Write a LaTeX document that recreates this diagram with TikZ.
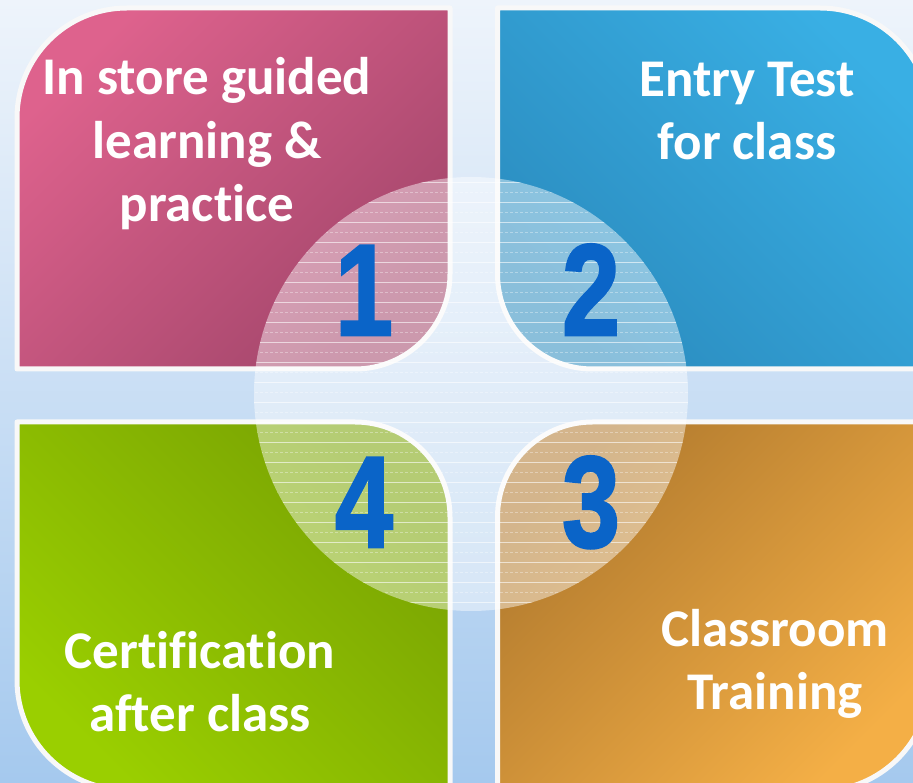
\documentclass[tikz,border=0pt]{standalone}
\usepackage{fontspec}
\usepackage{graphicx}
\setmainfont{Carlito}[Ligatures=NoCommon]
\newfontfamily\numfont{Liberation Sans}[FakeBold=2]
\definecolor{bgtop}{HTML}{EEF4FB}
\definecolor{bgbot}{HTML}{A5C9EE}
\definecolor{pinkL}{HTML}{DE628D}
\definecolor{pinkD}{HTML}{A3466B}
\definecolor{blueL}{HTML}{39AFE4}
\definecolor{blueD}{HTML}{2B8CBF}
\definecolor{greenL}{HTML}{9ACF00}
\definecolor{greenD}{HTML}{79A303}
\definecolor{orangeL}{HTML}{F4AF46}
\definecolor{orangeD}{HTML}{B17A2E}
\definecolor{numblue}{HTML}{0A64C8}
\definecolor{rim}{HTML}{F8F8F8}
\begin{document}
\begin{tikzpicture}[x=1pt,y=1pt,
  quad/.style={draw=rim, line width=5pt, line join=round},
  lbl/.style={text=white, font=\fontsize{53}{63.5}\selectfont\bfseries, align=center, anchor=base, inner sep=0pt},
  num/.style={text=numblue, font=\numfont\fontsize{130}{130}\selectfont\bfseries, anchor=base, inner sep=0pt},
  solidline/.style={white, opacity=0.6, line width=1pt},
  dashline/.style={white, opacity=0.35, line width=1pt, dash pattern=on 3pt off 2pt}]
\useasboundingbox (0,0) rectangle (913,782);
\clip (0,0) rectangle (913,782);
% background
\shade[top color=bgtop, bottom color=bgbot] (0,0) rectangle (913,782);
% quadrant 1 (pink)
\path[quad, top color=pinkL, bottom color=pinkD, shading angle=45]
  (450,774) -- (127,774) arc[start angle=90, end angle=180, radius=110]
  -- (17,413) -- (355,413) arc[start angle=270, end angle=360, radius=95] -- cycle;
% quadrant 2 (blue)
\path[quad, top color=blueL, bottom color=blueD, shading angle=-45]
  (497.5,774) -- (820,774) arc[start angle=90, end angle=0, radius=110]
  -- (930,413) -- (592.5,413) arc[start angle=270, end angle=180, radius=95] -- cycle;
% quadrant 4 (green)
\path[quad, top color=greenD, bottom color=greenL, shading angle=-45]
  (17,360) -- (355,360) arc[start angle=90, end angle=0, radius=95]
  -- (450,-8) -- (127,-8) arc[start angle=270, end angle=180, radius=110] -- cycle;
% quadrant 3 (orange)
\path[quad, top color=orangeD, bottom color=orangeL, shading angle=45]
  (930,360) -- (592.5,360) arc[start angle=90, end angle=180, radius=95]
  -- (497.5,-9) -- (820,-9) arc[start angle=270, end angle=360, radius=110] -- cycle;
% central translucent disc
\node[circle, minimum size=434pt, inner sep=0pt, fill=white, fill opacity=0.45] (hub) at (471,388) {};
\begin{scope}
  \clip (hub.center) circle (217);
  \foreach \yy in {179,199,...,619} \draw[solidline] (250,\yy) -- (700,\yy);
  \foreach \yy in {189,209,...,609} \draw[dashline] (250,\yy) -- (700,\yy);
\end{scope}
% labels (anchor = baseline of last line)
\node[lbl] (t1) at (207,560) {In store guided\\learning \&\\practice};
\node[lbl] (t2) at (747,622) {Entry Test\\for class};
\node[lbl] (t3) at (775,72) {Classroom\\Training};
\node[lbl] (t4) at (200,50) {Certification\\after class};
% numbers
\node[num] (n1) at (364,447) {\scalebox{0.8}[1]{1}};
\node[num] (n2) at (591,447) {\scalebox{0.8}[1]{2}};
\node[num] (n3) at (591,235) {\scalebox{0.8}[1]{3}};
\node[num] (n4) at (364,235) {\scalebox{0.8}[1]{4}};
\end{tikzpicture}
\end{document}
